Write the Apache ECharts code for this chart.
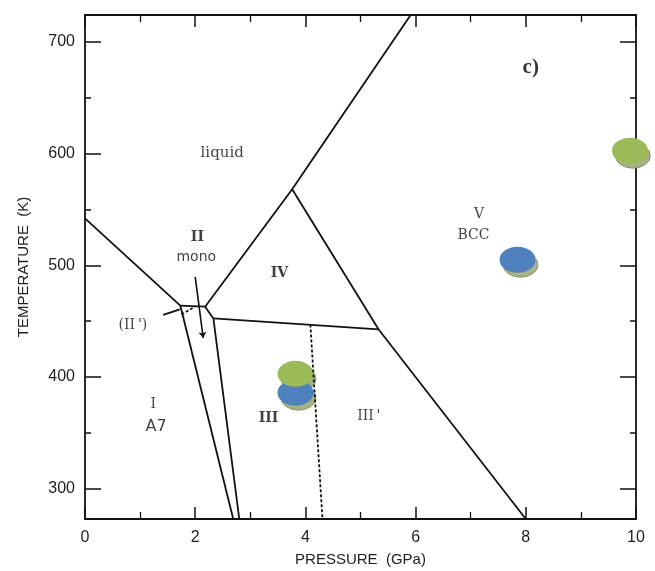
<!DOCTYPE html>
<html>
<head>
<meta charset="utf-8">
<script src="https://cdn.jsdelivr.net/npm/echarts@6/dist/echarts.min.js"></script>
<style>
  html, body { margin: 0; padding: 0; background: #fff; }
  #chart { width: 655px; height: 571px; }
</style>
</head>
<body>
<div id="chart"></div>
<script>
// phase boundaries, [pressure GPa, temperature K]
var liquidI = [[0, 542], [1.73, 464]];
var tripleLink = [[1.73, 464], [2.18, 463]];
var meltLine = [[2.18, 463], [3.76, 568], [5.91, 724]];
var ivV = [[3.76, 568], [5.33, 442.6], [8.0, 273]];
var iiIII = [[2.18, 463], [2.33, 452.5], [2.8, 273]];
var ivIII = [[2.33, 452.5], [5.33, 442.6]];
var iII = [[1.73, 464], [2.69, 273]];
var iiiIIIp = [[4.09, 447], [4.31, 273]];   // dashed
var primePointer = [[1.42, 455.7], [1.72, 460.5]];
var primeDashed = [[1.75, 456], [2.0, 463]];
var monoArrow = [[2.0, 489.7], [2.145, 435]];

// measured points
var greenPts = [[9.89, 602.5], [3.82, 402.9]];
var bluePts = [[7.85, 505], [3.82, 386]];

// region names
var regionLabels = [
  ['liquid', 2.49, 600.7],
  ['II', 2.04, 524.6],
  ['mono', 2.02, 506.7],
  ['IV', 3.53, 492.4],
  ['V', 7.15, 546],
  ['BCC', 7.05, 526.4],
  ['(II\u2009\')', 0.87, 445.9],
  ['I', 1.24, 376],
  ['A7', 1.29, 355.5],
  ['III', 3.33, 363.5],
  ['III\u2009\'', 5.15, 364.4]
];

var xTicks = [0, 2, 4, 6, 8, 10];
var yTicks = [300, 400, 500, 600, 700];
var yMinorTicks = [350, 450, 550, 650];

var myChart = echarts.init(document.getElementById('chart'));

var ink = '#111';
var sansNames = { 'mono': 1, 'A7': 1 };
var boldNames = { 'II': 1, 'IV': 1, 'III': 1 };

function boundary(data, dashed) {
  return {
    type: 'line',
    data: data,
    showSymbol: false,
    silent: true,
    animation: false,
    lineStyle: { color: ink, width: 1.8, type: dashed ? [3, 2] : 'solid' }
  };
}

function xAx(pos, labels) {
  return {
    type: 'value', position: pos, min: 0, max: 10, interval: 2,
    axisLine: { show: true, onZero: false, lineStyle: { color: ink, width: 1.8 } },
    axisTick: { show: true, inside: true, length: 12, lineStyle: { color: ink, width: 1.5 } },
    minorTick: { show: true, splitNumber: 2, length: 7, lineStyle: { color: ink, width: 1.3 } },
    splitLine: { show: false },
    axisLabel: labels ? { show: true, margin: 11, color: '#222', fontSize: 16, fontFamily: 'Liberation Sans' } : { show: false },
    name: labels ? 'PRESSURE  (GPa)' : '',
    nameLocation: 'middle',
    nameGap: 33,
    nameTextStyle: { color: '#222', fontSize: 15, fontFamily: 'Liberation Sans' }
  };
}

function yAx(pos, ticks, len, labels, line) {
  return {
    type: 'value', position: pos, min: 273, max: 724,
    axisLine: { show: line, onZero: false, lineStyle: { color: ink, width: 1.8 } },
    axisTick: { show: true, inside: true, length: len, customValues: ticks, lineStyle: { color: ink, width: 1.5 } },
    splitLine: { show: false },
    axisLabel: labels ? { show: true, customValues: yTicks, margin: 10, color: '#222', fontSize: 16, fontFamily: 'Liberation Sans' } : { show: false },
    name: labels ? 'TEMPERATURE  (K)' : '',
    nameLocation: 'middle',
    nameGap: 54,
    nameTextStyle: { color: '#222', fontSize: 15, fontFamily: 'Liberation Sans' }
  };
}

var series = [
  boundary(liquidI),
  boundary(tripleLink),
  boundary(meltLine),
  boundary(ivV),
  boundary(iiIII),
  boundary(ivIII),
  boundary(iII),
  boundary(iiiIIIp, true),
  boundary(primePointer),
  boundary(primeDashed, true),
  {
    type: 'lines',
    coordinateSystem: 'cartesian2d',
    silent: true,
    animation: false,
    symbol: ['none', 'arrow'],
    symbolSize: 6,
    lineStyle: { color: ink, width: 1.6, opacity: 1 },
    data: [{ coords: monoArrow }]
  },
  // hatched shadows under the dots
  {
    type: 'scatter',
    data: greenPts.concat(bluePts),
    symbol: 'circle',
    symbolSize: [35, 25],
    symbolOffset: [3, 5],
    silent: true,
    animation: false,
    itemStyle: { color: '#a7b286', borderColor: '#7c8763', borderWidth: 0.8, opacity: 1 }
  },
  {
    type: 'scatter',
    data: bluePts,
    symbol: 'circle',
    symbolSize: [36, 26],
    silent: true,
    animation: false,
    itemStyle: { color: '#4f81bd', opacity: 1 }
  },
  {
    type: 'scatter',
    data: greenPts,
    symbol: 'circle',
    symbolSize: [36, 26],
    silent: true,
    animation: false,
    itemStyle: { color: '#9bbb59', opacity: 1 }
  },
  {
    type: 'scatter',
    symbolSize: 0,
    silent: true,
    animation: false,
    data: regionLabels.map(function (r) {
      var sans = sansNames[r[0]];
      return {
        name: r[0],
        value: [r[1], r[2]],
        label: {
          fontFamily: sans ? 'DejaVu Sans' : 'DejaVu Serif',
          fontWeight: boldNames[r[0]] ? 'bold' : 'normal',
          fontSize: r[0] === 'A7' ? 16 : (r[0] === 'liquid' ? 15 : 14)
        }
      };
    }),
    label: {
      show: true,
      position: 'inside',
      formatter: '{b}',
      color: '#111'
    }
  },
  {
    type: 'scatter',
    symbolSize: 0,
    silent: true,
    animation: false,
    data: [{ name: 'c)', value: [8.09, 676.7] }],
    label: {
      show: true,
      position: 'inside',
      formatter: '{b}',
      color: '#000',
      fontSize: 21,
      fontWeight: 'bold',
      fontFamily: 'Liberation Serif'
    }
  }
];

myChart.setOption({
  animation: false,
  backgroundColor: '#fff',
  grid: { left: 85, right: 19, top: 15, bottom: 52, containLabel: false, outerBoundsMode: 'none' },
  xAxis: [xAx('bottom', true), xAx('top', false)],
  yAxis: [
    yAx('left', yTicks, 16, true, true),
    yAx('left', yMinorTicks, 6, false, false),
    yAx('right', yTicks, 16, false, true),
    yAx('right', yMinorTicks, 6, false, false)
  ],
  series: series
});
</script>
</body>
</html>
